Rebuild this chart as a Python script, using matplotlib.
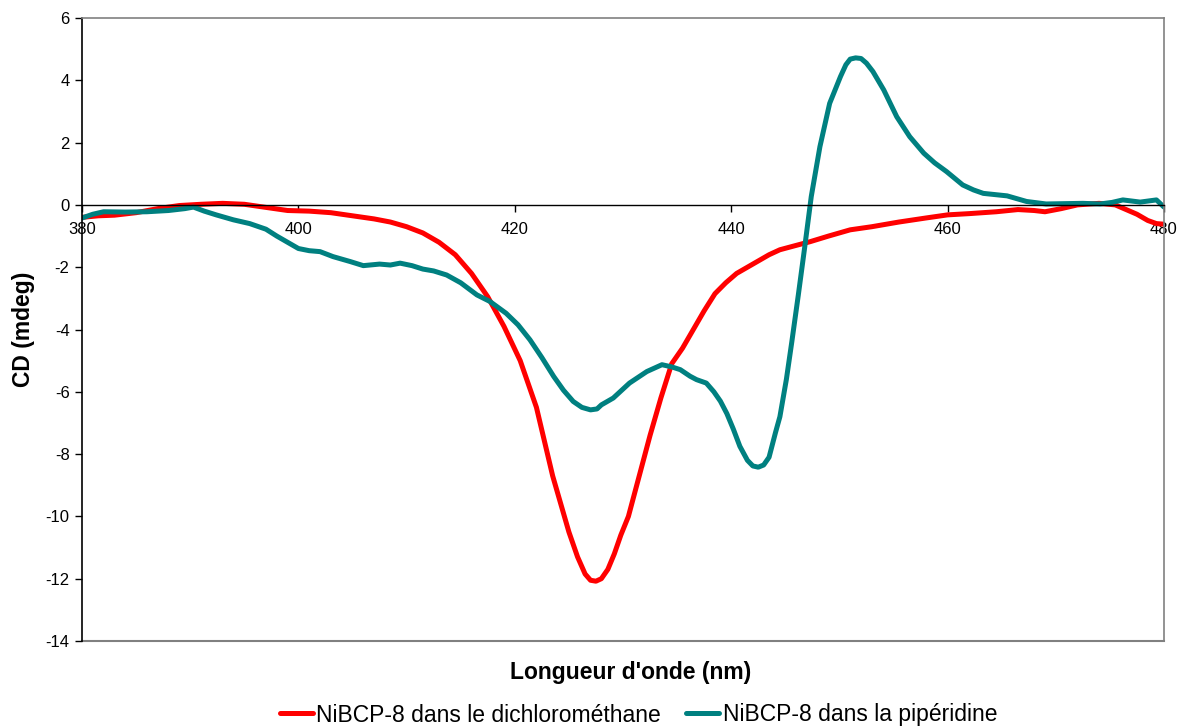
import matplotlib
matplotlib.use("Agg")
import matplotlib.pyplot as plt

plt.rcParams['font.family'] = ['Liberation Sans', 'DejaVu Sans']
plt.rcParams['axes.unicode_minus'] = False

# Series 1: NiBCP-8 dans le dichlorométhane
wl_dcm = [380, 381.5, 383, 385, 387, 389, 391, 393, 395, 397, 399, 401, 403, 405, 407,
          408.5, 410, 411.5, 413, 414.5, 416, 417.5, 419, 420.5, 422, 423.5, 425, 425.8,
          426.5, 427.0, 427.5, 428.0, 428.6, 429.2, 429.8, 430.5, 431.5, 432.5, 433.5,
          434.5, 435.5, 436.5, 437.5, 438.5, 439.5, 440.5, 441.5, 442.5, 443.5, 444.5,
          446, 447.3, 449, 451, 453, 455.5, 458, 460, 462, 464.5, 466.5, 468, 469, 470.5,
          472, 474, 475.5, 476.5, 477.5, 478.5, 479.3, 480]
cd_dcm = [-0.40, -0.35, -0.33, -0.25, -0.12, -0.02, 0.02, 0.05, 0.02, -0.08, -0.18, -0.20,
          -0.25, -0.35, -0.45, -0.55, -0.70, -0.90, -1.20, -1.60, -2.20, -2.95, -3.90,
          -5.00, -6.50, -8.70, -10.50, -11.30, -11.85, -12.05, -12.08, -12.00, -11.70,
          -11.20, -10.60, -10.00, -8.70, -7.40, -6.20, -5.10, -4.60, -4.00, -3.40, -2.85,
          -2.50, -2.20, -2.00, -1.80, -1.60, -1.44, -1.30, -1.18, -1.00, -0.80, -0.70,
          -0.55, -0.42, -0.32, -0.28, -0.22, -0.15, -0.18, -0.22, -0.12, 0.00, 0.05, 0.00,
          -0.15, -0.30, -0.50, -0.60, -0.62]

# Series 2: NiBCP-8 dans la pipéridine
wl_pip = [380, 381, 382, 384, 386, 388, 389.5, 390.3, 391.3, 392.4, 394, 395.5, 397, 398,
          399, 400, 401, 402, 403.2, 404.8, 406, 407.5, 408.5, 409.4, 410.5, 411.5, 412.5,
          413.7, 415, 416.5, 417.7, 419.2, 420.3, 421.4, 422.5, 423.6, 424.5, 425.4, 426.2,
          427.0, 427.6, 428.0, 429.1, 430.6, 432.2, 433.6, 434.5, 435.3, 436.2, 436.8,
          437.7, 438.4, 439.0, 439.6, 440.2, 440.8, 441.5, 442.0, 442.5, 443.0, 443.5,
          444.1, 444.5, 445.1, 445.6, 446.2, 446.8, 447.4, 448.2, 449.1, 450.1, 450.6,
          451.0, 451.5, 452.0, 452.5, 453.1, 454.1, 455.3, 456.5, 457.8, 458.8, 459.9,
          461.4, 462.4, 463.3, 465.5, 467.3, 469.1, 472.5, 474.1, 475.2, 476.2, 477.8,
          479.3, 480]
cd_pip = [-0.42, -0.30, -0.22, -0.23, -0.22, -0.18, -0.12, -0.07, -0.20, -0.32, -0.48,
          -0.60, -0.78, -1.00, -1.20, -1.40, -1.47, -1.50, -1.66, -1.82, -1.95, -1.90,
          -1.93, -1.87, -1.95, -2.06, -2.12, -2.25, -2.50, -2.89, -3.10, -3.48, -3.85,
          -4.33, -4.90, -5.51, -5.95, -6.31, -6.50, -6.58, -6.55, -6.42, -6.20, -5.72,
          -5.35, -5.13, -5.20, -5.29, -5.50, -5.61, -5.72, -6.00, -6.30, -6.70, -7.20,
          -7.75, -8.20, -8.38, -8.42, -8.35, -8.10, -7.30, -6.80, -5.60, -4.40, -2.90,
          -1.34, 0.27, 1.87, 3.26, 4.12, 4.50, 4.68, 4.72, 4.70, 4.55, 4.28, 3.69, 2.83,
          2.19, 1.66, 1.35, 1.07, 0.64, 0.48, 0.37, 0.29, 0.11, 0.03, 0.05, 0.03, 0.08,
          0.16, 0.09, 0.16, -0.07]

labels = ["NiBCP-8 dans le dichlorométhane", "NiBCP-8 dans la pipéridine"]
x_ticks = [380, 400, 420, 440, 460, 480]
y_ticks = [-14, -12, -10, -8, -6, -4, -2, 0, 2, 4, 6]

fig = plt.figure(figsize=(11.81, 7.28), dpi=100)
ax = fig.add_axes([82/1181, 1 - 641/728, (1164-82)/1181, (641-18)/728])

ax.plot(wl_dcm, cd_dcm, color='#FF0000', lw=3.6, label=labels[0],
        solid_capstyle='round', solid_joinstyle='round')
ax.plot(wl_pip, cd_pip, color='#008080', lw=3.6, label=labels[1],
        solid_capstyle='round', solid_joinstyle='round')

ax.set_xlim(380, 480)
ax.set_ylim(-14, 6)
ax.set_xticks(x_ticks)
ax.set_yticks(y_ticks)

ax.spines['bottom'].set_position(('data', 0))
ax.spines['bottom'].set_color('black')
ax.spines['bottom'].set_linewidth(1.0)
ax.spines['left'].set_color('black')
ax.spines['left'].set_linewidth(1.2)
for s in ['top', 'right']:
    ax.spines[s].set_color('#808080')
    ax.spines[s].set_linewidth(1.2)
ax.axhline(-14, color='#808080', lw=1.5, clip_on=False, zorder=0)

ax.tick_params(axis='both', direction='out', length=5, width=1, labelsize=12, colors='black')
ax.tick_params(axis='x', pad=7)
ax.tick_params(axis='y', pad=4)

fig.text(24/1181, 1 - 329/728, "CD (mdeg)", fontsize=16.5, fontweight='bold',
         rotation=90, ha='center', va='center')
fig.text(631/1181, 1 - 672/728, "Longueur d'onde (nm)", fontsize=16.5, fontweight='bold',
         ha='center', va='center')

fig.legend(loc='center', bbox_to_anchor=(638.5/1181, 1 - 715/728), ncol=2, frameon=False,
           fontsize=16.5, handlelength=1.45, handletextpad=0.15, columnspacing=1.1,
           borderaxespad=0, borderpad=0)

fig.savefig("out.png", dpi=100, facecolor='white')
